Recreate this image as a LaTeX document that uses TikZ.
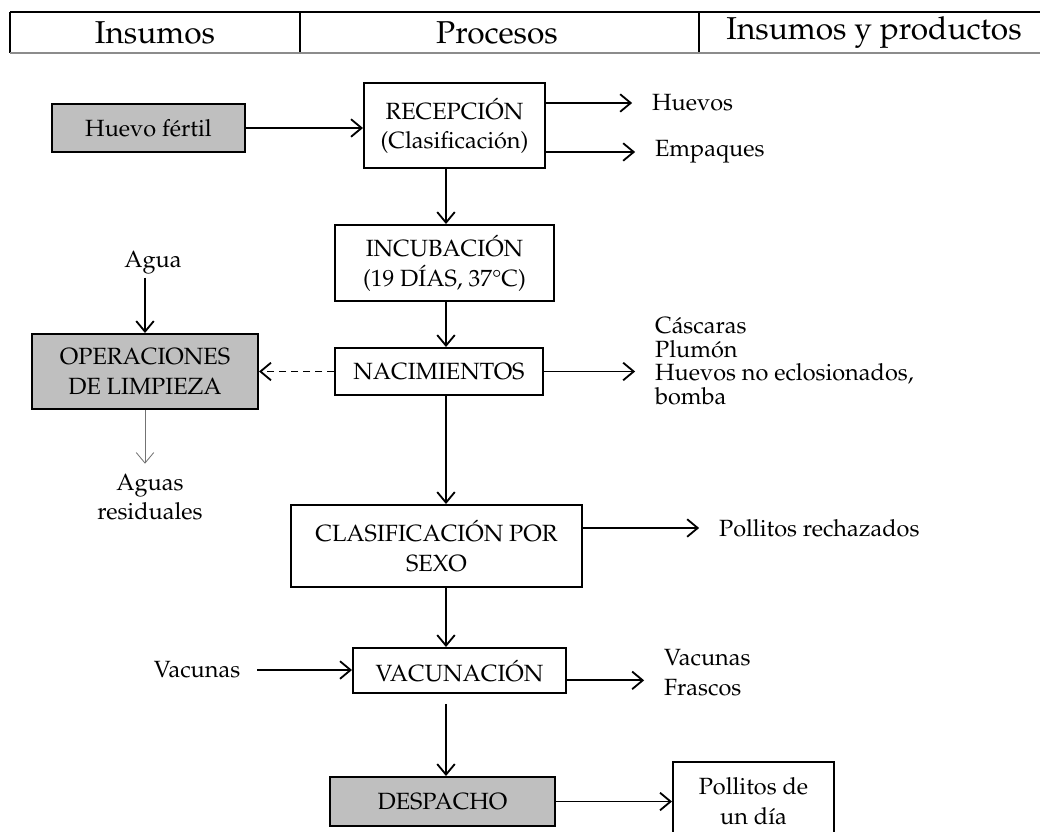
\documentclass[tikz,border=0pt]{standalone}
\usepackage[T1]{fontenc}
\renewcommand{\rmdefault}{ppl}
\usetikzlibrary{arrows.meta}

\begin{document}
\begin{tikzpicture}[x=0.025cm, y=-0.025cm]

        \tikzset{every node/.style={font=\fontsize{16.7}{21}\selectfont, inner sep=2pt},
                 >={Straight Barb[length=7.5pt, width=12.5pt]},
                 caja/.style={draw, line width=1.4pt, align=center},
                 gris/.style={caja, fill=black!25},
                 titulo/.style={font=\fontsize{22.5}{27}\selectfont},
                 flecha/.style={->, line width=1.3pt},
                 salida/.style={flecha, shorten >=12pt}}

        \useasboundingbox (0, 0) rectangle (1040, 831);

        % table head
        \draw[line width=1.3pt] (10, 12) -- (1040, 12);
        \draw[line width=1.3pt] (10, 12) -- (10, 53);
        \draw[line width=1.3pt] (300, 12) -- (300, 53);
        \draw[line width=1.3pt] (699, 12) -- (699, 53);
        \draw[black!45, line width=1pt] (10, 53) -- (1040, 53);
        \node[titulo] at (155, 33) (col1) {Insumos};
        \node[titulo] at (497, 33) (col2) {Procesos};
        \node[titulo] at (874, 33) (col3) {Insumos y productos};

        % process boxes, top to bottom
        \node[caja, minimum width=4.525cm, minimum height=2.125cm] at (454.5, 125.5) (recep) {RECEPCI\'ON\\(Clasificaci\'on)};
        \node[caja, minimum width=5.475cm, minimum height=1.9cm] at (444.5, 263) (incub) {INCUBACI\'ON\\(19 D\'IAS, 37\textdegree C)};
        \node[caja, minimum width=5.2cm, minimum height=1.175cm] at (439, 371.5) (nacim) {NACIMIENTOS};
        \node[caja, minimum width=7.275cm, minimum height=2.05cm] at (436.5, 546) (clasif) {CLASIFICACI\'ON POR\\SEXO};
        \node[caja, minimum width=5.325cm, minimum height=1.125cm] at (459.5, 670.5) (vacun) {VACUNACI\'ON};
        \node[gris, minimum width=5.625cm, minimum height=1.225cm] at (442.5, 801.5) (desp) {DESPACHO};

        % inputs on the left
        \node[gris, minimum width=4.825cm, minimum height=1.2cm] at (148.5, 128) (huevo) {Huevo f\'ertil};
        \node at (153, 263) (agua) {Agua};
        \node[gris, minimum width=5.65cm, minimum height=1.875cm] at (145, 371.5) (limp) {OPERACIONES\\DE LIMPIEZA};
        \node[align=center] at (150, 497) (aguas) {Aguas\\residuales};
        \node at (197, 670) (vacin) {Vacunas};

        % outputs on the right
        \node[anchor=west] at (649, 103) (huevos) {Huevos};
        \node[anchor=west] at (652, 152) (emp) {Empaques};
        \node[anchor=west, align=left, font=\fontsize{16.7}{16.8}\selectfont] at (652, 361) (casc) {C\'ascaras\\Plum\'on\\Huevos no eclosionados,\\bomba};
        \node[anchor=west] at (716, 528) (rech) {Pollitos rechazados};
        \node[anchor=west, align=left] at (661, 672.5) (vacout) {Vacunas\\Frascos};
        \node[caja, minimum width=4.025cm, minimum height=1.95cm] at (753.5, 801) (poll) {Pollitos de\\un d\'{\i}a};

        % main column
        \coordinate (eje) at (446, 0);
        \draw[flecha] (recep.south -| eje) -- (incub.north -| eje);
        \draw[flecha] (incub.south -| eje) -- (nacim.north -| eje);
        \draw[flecha] (nacim.south -| eje) -- (clasif.north -| eje);
        \draw[flecha] (clasif.south -| eje) -- (vacun.north -| eje);
        \draw[flecha, shorten <=7pt] (vacun.south -| eje) -- (desp.north -| eje);

        % inputs
        \draw[flecha] (huevo.east) -- (huevo.east -| recep.west);
        \draw[flecha] (agua.south -| limp.north) -- (limp.north);
        \draw[->, line width=0.6pt, black!55, shorten >=5pt] (limp.south) -- (limp.south |- aguas.north);
        \draw[flecha, dash pattern=on 5pt off 3.5pt] (nacim.west) -- (limp.east);
        \draw[flecha, shorten <=10pt] (vacin.east) -- (vacin.east -| vacun.west);

        % outputs
        \draw[salida] (recep.east |- huevos.west) -- (huevos.west);
        \draw[salida] (recep.east |- emp.west) -- (emp.west);
        \draw[salida] (nacim.east) -- (nacim.east -| casc.west);
        \draw[salida] (clasif.east |- rech.west) -- (rech.west);
        \draw[salida] ([yshift=-7pt]vacun.east) -- ([yshift=-7pt]vacun.east -| vacout.west);
        \draw[flecha] (desp.east) -- (desp.east -| poll.west);

\end{tikzpicture}
\end{document}
